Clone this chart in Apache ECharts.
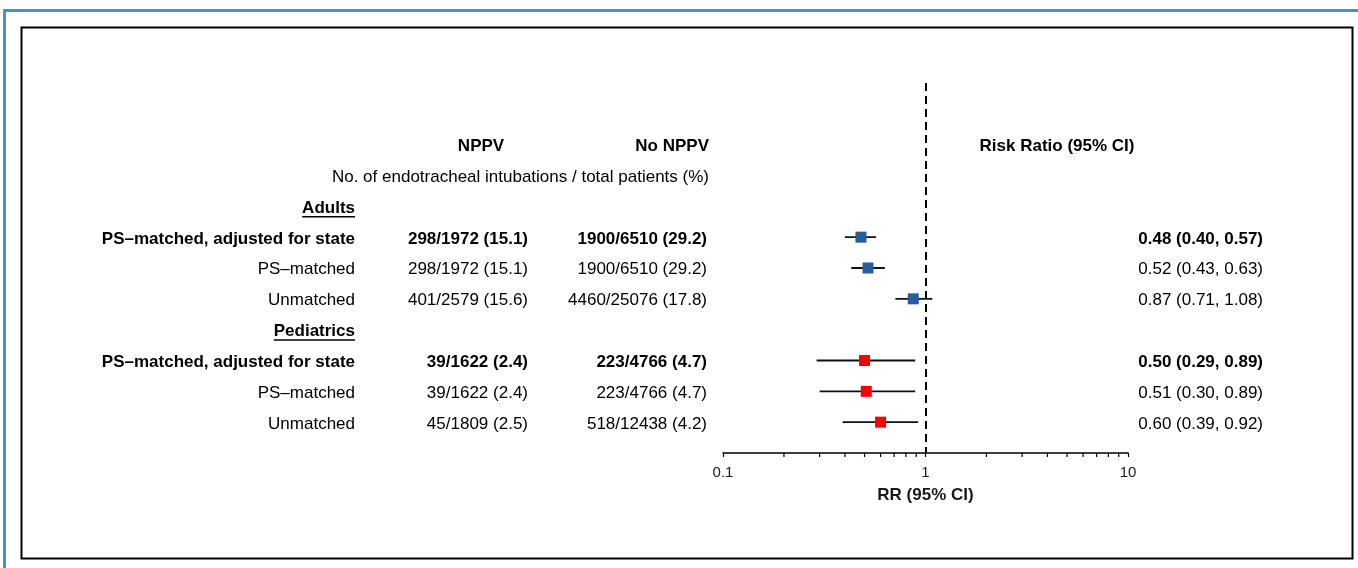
<!DOCTYPE html>
<html><head><meta charset="utf-8">
<script src="https://cdn.jsdelivr.net/npm/echarts@6/dist/echarts.min.js"></script>
<style>html,body{margin:0;padding:0;background:#fff}#c{width:1358px;height:568px}</style>
</head><body><div id="c"></div>
<script>
// ---------- data ----------
const groupLabels = ['Adults', 'Pediatrics'];
const groupRows = [2, 6];
const rowLabels = ['PS\u2013matched, adjusted for state', 'PS\u2013matched', 'Unmatched',
                   'PS\u2013matched, adjusted for state', 'PS\u2013matched', 'Unmatched'];
const rowIndex = [3, 4, 5, 7, 8, 9];
const rowBold = [true, false, false, true, false, false];
const rowGroup = [0, 0, 0, 1, 1, 1];
const nppvText = ['298/1972 (15.1)', '298/1972 (15.1)', '401/2579 (15.6)',
                  '39/1622 (2.4)', '39/1622 (2.4)', '45/1809 (2.5)'];
const noNppvText = ['1900/6510 (29.2)', '1900/6510 (29.2)', '4460/25076 (17.8)',
                    '223/4766 (4.7)', '223/4766 (4.7)', '518/12438 (4.2)'];
const rrValue = [0.48, 0.52, 0.87, 0.50, 0.51, 0.60];
const rrLow = [0.40, 0.43, 0.71, 0.29, 0.30, 0.39];
const rrHigh = [0.57, 0.63, 1.08, 0.89, 0.89, 0.92];
const rrText = ['0.48 (0.40, 0.57)', '0.52 (0.43, 0.63)', '0.87 (0.71, 1.08)',
                '0.50 (0.29, 0.89)', '0.51 (0.30, 0.89)', '0.60 (0.39, 0.92)'];
const headerNPPV = 'NPPV';
const headerNoNPPV = 'No NPPV';
const headerRR = 'Risk Ratio (95% CI)';
const subtitle = 'No. of endotracheal intubations / total patients (%)';
const axisTitle = 'RR (95% CI)';
const majorTicks = [0.1, 1, 10];
const minorTicks = [0.2, 0.3, 0.4, 0.5, 0.6, 0.7, 0.8, 0.9, 2, 3, 4, 5, 6, 7, 8, 9];
const groupColors = ['#255D9E', '#FF0000'];
const refValue = 1;

// ---------- layout ----------
const FONT = "'Liberation Sans', Arial, sans-serif";
const FS = 17;
const TEXT_DY = 1.8;
const COL_LABEL = 355, COL_NPPV = 528, COL_NONPPV = 707, COL_RR = 1263;
const HDR_NPPV = 481, HDR_RR = 1057;

const textItems = [];
textItems.push({x: HDR_NPPV, row: 0, text: headerNPPV, bold: true, align: 'center'});
textItems.push({x: COL_NONPPV + 2, row: 0, text: headerNoNPPV, bold: true, align: 'right'});
textItems.push({x: HDR_RR, row: 0, text: headerRR, bold: true, align: 'center'});
textItems.push({x: COL_NONPPV + 2, row: 1, text: subtitle, bold: false, align: 'right'});
groupLabels.forEach((g, i) => textItems.push({x: COL_LABEL, row: groupRows[i], text: g, bold: true, align: 'right', underline: true}));
rowLabels.forEach((t, i) => {
  const r = rowIndex[i], b = rowBold[i];
  textItems.push({x: COL_LABEL, row: r, text: t, bold: b, align: 'right'});
  textItems.push({x: COL_NPPV, row: r, text: nppvText[i], bold: b, align: 'right'});
  textItems.push({x: COL_NONPPV, row: r, text: noNppvText[i], bold: b, align: 'right'});
  textItems.push({x: COL_RR, row: r, text: rrText[i], bold: b, align: 'right'});
});

const measureCtx = document.createElement('canvas').getContext('2d');
function fontStr(bold) { return (bold ? 'bold ' : '') + FS + 'px ' + FONT; }

const chart = echarts.init(document.getElementById('c'), null, {renderer: 'canvas'});
const yAxisCommon = {type: 'value', min: -2, max: 10, inverse: true, show: false};

chart.setOption({
  animation: false,
  backgroundColor: '#fff',
  textStyle: {fontFamily: FONT},
  graphic: [
    {type: 'rect', left: 2, top: 8, shape: {width: 1400, height: 600},
     style: {fill: 'none', stroke: '#3A95D2', lineWidth: 3}, z: 100},
    {type: 'rect', left: 19, top: 25, shape: {width: 1331, height: 531},
     style: {fill: 'none', stroke: '#000', lineWidth: 2}, z: 100}
  ],
  grid: [
    {left: 723, top: 83, width: 405, height: 370},
    {left: 0, top: 83, width: 1358, height: 370}
  ],
  xAxis: [
    {type: 'log', logBase: 10, min: majorTicks[0], max: majorTicks[2], gridIndex: 0,
     splitLine: {show: false},
     axisLine: {show: true, onZero: false, lineStyle: {color: '#000', width: 1.5}},
     axisTick: {show: true, length: 4, lineStyle: {color: '#000', width: 1.2}},
     axisLabel: {fontSize: 15, color: '#1a1a1a', margin: 12, fontFamily: FONT,
                 formatter: v => String(v)},
     name: axisTitle, nameLocation: 'middle', nameGap: 34,
     nameTextStyle: {fontSize: FS, fontWeight: 'bold', color: '#1a1a1a', fontFamily: FONT}},
    {type: 'value', min: 0, max: 1358, gridIndex: 1, show: false}
  ],
  yAxis: [
    Object.assign({gridIndex: 0}, yAxisCommon),
    Object.assign({gridIndex: 1}, yAxisCommon)
  ],
  series: [
    {
      type: 'custom', name: 'minorTicks', xAxisIndex: 0, yAxisIndex: 0, clip: false, silent: true,
      data: minorTicks.map(v => [v, 10]),
      renderItem: (params, api) => {
        const p = api.coord([api.value(0), api.value(1)]);
        return {type: 'line', shape: {x1: p[0], y1: p[1], x2: p[0], y2: p[1] + 4},
                style: {stroke: '#000', lineWidth: 1.2}};
      }
    },
    {
      type: 'custom', name: 'ci', xAxisIndex: 0, yAxisIndex: 0, clip: false, silent: true, z: 3,
      data: rrLow.map((l, i) => [l, rrHigh[i], rowIndex[i]]),
      renderItem: (params, api) => {
        const a = api.coord([api.value(0), api.value(2)]);
        const b = api.coord([api.value(1), api.value(2)]);
        return {type: 'line', shape: {x1: a[0], y1: a[1], x2: b[0], y2: b[1]},
                style: {stroke: '#111', lineWidth: 1.8}};
      }
    },
    {
      type: 'scatter', name: 'rr', xAxisIndex: 0, yAxisIndex: 0, z: 5, silent: true,
      symbol: 'rect', symbolSize: 11,
      data: rrValue.map((v, i) => ({value: [v, rowIndex[i]],
                                    itemStyle: {color: groupColors[rowGroup[i]], opacity: 1}})),
      markLine: {
        silent: true, symbol: ['none', 'none'], label: {show: false},
        lineStyle: {color: '#000', width: 2, type: [8, 5]},
        data: [{xAxis: refValue}]
      }
    },
    {
      type: 'custom', name: 'texts', xAxisIndex: 1, yAxisIndex: 1, clip: false, silent: true,
      data: textItems.map(t => [t.x, t.row]),
      renderItem: (params, api) => {
        const t = textItems[params.dataIndex];
        const p = api.coord([api.value(0), api.value(1)]);
        const y = p[1] + TEXT_DY;
        const font = fontStr(t.bold);
        const children = [{
          type: 'text', x: p[0], y: y,
          style: {text: t.text, font: font, fill: '#000', align: t.align, verticalAlign: 'middle'}
        }];
        if (t.underline) {
          measureCtx.font = font;
          const w = measureCtx.measureText(t.text).width;
          const x2 = t.align === 'right' ? p[0] : p[0] + w;
          children.push({type: 'line', shape: {x1: x2 - w, y1: y + 8.5, x2: x2, y2: y + 8.5},
                         style: {stroke: '#000', lineWidth: 1.5}});
        }
        return {type: 'group', children: children};
      }
    }
  ]
});
</script>
</body></html>
